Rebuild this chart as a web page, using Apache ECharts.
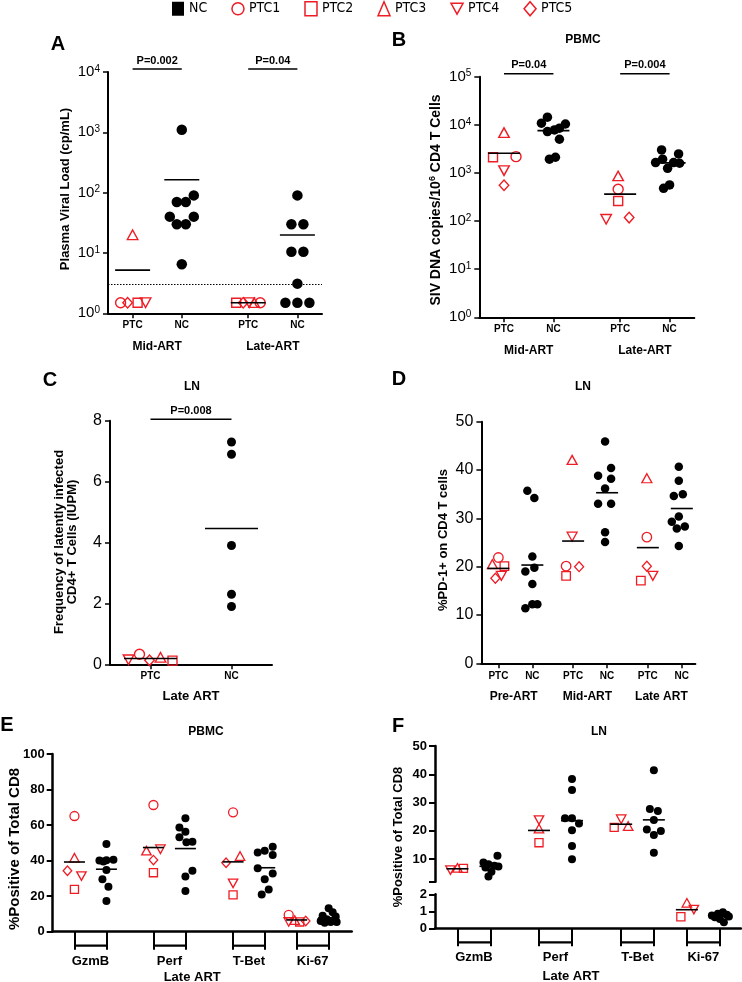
<!DOCTYPE html>
<html>
<head>
<meta charset="utf-8">
<script src="https://cdn.jsdelivr.net/npm/echarts@6/dist/echarts.min.js"></script>
<style>
html, body { margin: 0; padding: 0; background: #fff; }
#main { width: 742px; height: 982px; }
</style>
</head>
<body>
<div id="main"></div>
<script>
var myChart = echarts.init(document.getElementById('main'));

// ---- data (PTC arrays are in order PTC1..PTC5, null = animal not measured) ----
var ptcNames = ['PTC1', 'PTC2', 'PTC3', 'PTC4', 'PTC5'];

// A: plasma viral load (cp/mL)
var abCats = ['PTC', 'NC', 'PTC', 'NC'];
var abGroups = ['Mid-ART', 'Late-ART'];
var aMidPTC = [1.5, 1.5, 20, 1.5, 1.5];
var aMidNC = [1100, 90, 70, 70, 40, 40, 30, 30, 6.5];
var aLatePTC = [1.5, 1.5, 1.5, 1.5, 1.5];
var aLateNC = [90, 30, 30, 10.5, 10.5, 3.1, 1.5, 1.5, 1.5];
var aLimit = 3;
var aPvals = ['P=0.002', 'P=0.04'];

// B: SIV DNA copies / 10^6 CD4 T cells (PBMC)
var bMidPTC = [2180, 2120, 6890, 1116, 555];
var bMidNC = [14400, 10800, 10400, 8500, 7830, 7230, 5010, 2120, 1930];
var bLatePTC = [458, 262, 866, 109, 118];
var bLateNC = [3010, 2480, 1930, 1640, 1640, 1590, 1250, 563, 480];
var bPvals = ['P=0.04', 'P=0.004'];

// C: IUPM (LN, late ART)
var cCats = ['PTC', 'NC'];
var cPTC = [0.33, 0.12, 0.23, 0.15, 0.13];
var cNC = [7.3, 6.9, 3.9, 2.3, 1.9];
var cPval = 'P=0.008';

// D: %PD-1+ on CD4 T cells (LN)
var dCats = ['PTC', 'NC', 'PTC', 'NC', 'PTC', 'NC'];
var dGroups = ['Pre-ART', 'Mid-ART', 'Late ART'];
var dPrePTC = [21.9, 20.1, 20.5, 18.1, 17.6];
var dPreNC = [35.7, 34.2, 22.1, 19.8, 19.0, 16.4, 12.2, 12.2, 11.4];
var dMidPTC = [20.1, 18.1, 42.1, 26.2, 20.0];
var dMidNC = [45.9, 40.4, 38.8, 38.2, 36.2, 33.0, 33.0, 27.1, 25.1];
var dLatePTC = [26.1, 17.1, 38.3, 18.1, 20.1];
var dLateNC = [40.7, 37.8, 35.0, 34.6, 30.4, 29.3, 28.3, 27.9, 24.3];

// E: %positive of total CD8 (PBMC, late ART)
var efMarkers = ['GzmB', 'Perf', 'T-Bet', 'Ki-67'];
var eGzmbPTC = [65.1, 23.8, 41.6, 31.3, 34.3];
var eGzmbNC = [49.4, 40.5, 40.2, 40.0, 39.5, 34.7, 29.5, 25.3, 17.3];
var ePerfPTC = [71.3, 33.2, 45.6, 46.4, 40.3];
var ePerfNC = [63.8, 58.7, 56.3, 53.1, 50.6, 50.3, 34.3, 31.0, 22.9];
var eTbetPTC = [67.2, 20.7, 42.6, 27.2, 38.8];
var eTbetNC = [47.8, 45.6, 44.5, 43.2, 35.7, 32.8, 29.5, 23.8, 21.0];
var eKi67PTC = [9.5, 5.5, 6.5, 5.5, 6.0];
var eKi67NC = [13.2, 11.0, 9.0, 8.5, 7.0, 6.0, 5.5, 5.5, 5.0];

// F: %positive of total CD8 (LN, late ART)
var fGzmbPTC = [null, 6.7, 6.9, 6.1, null];
var fGzmbNC = [11.2, 8.8, 8.2, 7.6, 7.4, 7.0, 5.5, 3.8];
var fPerfPTC = [null, 15.8, 20.8, 23.8, null];
var fPerfNC = [38.3, 34.4, 24.4, 24.4, 22.6, 20.2, 14.6, 9.9];
var fTbetPTC = [null, 21.2, 21.7, 24.1, null];
var fTbetNC = [41.4, 27.7, 27.0, 23.8, 20.5, 19.9, 18.5, 12.2];
var fKi67PTC = [null, 0.68, 1.5, 1.1, null];
var fKi67NC = [0.95, 0.85, 0.8, 0.75, 0.7, 0.65, 0.55, 0.35];

// ---- layout: category positions on the x axes and point spread (px) ----
var abPos = [0.5, 1.5, 2.85, 3.85], abMax = 4.35;
var dPos = [0.5, 1.5, 2.7, 3.7, 4.9, 5.9], dMax = 6.3;
var efPos = [0.68, 1.68, 3.15, 4.15, 5.64, 6.63, 7.63, 8.63], eMax = 9.35, fMax = 9.27;

var aMidPTCJit = [-12, 5, 0, 13, -5];
var aMidNCJit = [0, 12, -5, 4, -12, 12, -5, 4, 0];
var aLatePTCJit = [12, -12, 6, 1, -5];
var aLateNCJit = [0, -6, 6, -6, 6, 0, -12, 0, 12];
var bMidPTCJit = [12, -11, 0, 0, 0];
var bMidNCJit = [-6, -12, 12, 6, 1, -6, 6, 2, -4];
var bLatePTCJit = [-2, -2, -2, -14, 9];
var bLateNCJit = [-8, 9, -7, -14, 4, 10, -2, 0, -6];
var cPTCJit = [-11, 22, 10, -22, -1];
var cNCJit = [0, 0, 0, 0, 0];
var dPrePTCJit = [0, 6, -6, 3, -3];
var dPreNCJit = [-5, 2, 0, 2, -7, 0, 0, 5, -7];
var dMidPTCJit = [-7, -7, -1, -1, 6];
var dMidNCJit = [-2, 4, -9, 4, -2, -9, 4, -2, -2];
var dLatePTCJit = [-1, -7, -1, 5, -1];
var dLateNCJit = [-3, -3, 1, -8, -3, -10, 3, -5, -3];
var eGzmbPTCJit = [0, 0, 0, 7, -7];
var eGzmbNCJit = [0, 7, 0, -7, -3, 0, -4, 2, 0];
var ePerfPTCJit = [0, 0, -7, 7, 0];
var ePerfNCJit = [0, -6, 0, -6, 7, 1, 7, 0, 0];
var eTbetPTCJit = [0, 0, 7, 0, -7];
var eTbetNCJit = [8, 0, -7, 8, -7, 8, 0, 4, -3];
var eKi67PTCJit = [-8, 3, -2, -8, 9];
var eKi67NCJit = [0, 4, -6, 7, -2, -8, 8, 2, -4];
var fGzmbPTCJit = [0, 6, 0, -7, 0];
var fGzmbNCJit = [7, -7, -2, 4, 8, -5, 1, -2];
var fPerfPTCJit = [0, 0, 0, 0, 0];
var fPerfNCJit = [0, 0, -7, 0, 7, 0, 0, 0];
var fTbetPTCJit = [0, -7, 7, 0, 0];
var fTbetNCJit = [0, -4, 4, 0, -7, 7, 0, 0];
var fKi67PTCJit = [0, -6, 0, 7, 0];
var fKi67NCJit = [3, -2, 7, -8, 9, -5, 0, 4];

// ---- styles ----
var RED = '#ee1c25';
var FONT = '"Liberation Sans", Arial, sans-serif';
var INV_TRI = 'path://M0,0L10,0L5,9Z';
var SYMS = ['circle', 'rect', 'triangle', INV_TRI, 'diamond'];
var SYM_K = [[1, 1], [0.9, 0.9], [1.05, 0.95], [1.05, 0.95], [0.95, 1.05]];

function mean(a) {
    var s = 0, n = 0;
    a.forEach(function (v) { if (v != null) { s += v; n++; } });
    return s / n;
}
function mid(p, i) { return (p[i] + p[i + 1]) / 2; }
function pick(pos, names) {
    return function (v) {
        var best = 0;
        for (var i = 1; i < pos.length; i++) {
            if (Math.abs(pos[i] - v) < Math.abs(pos[best] - v)) best = i;
        }
        return names[best];
    };
}

var series = [];

// one series per PTC animal, one for NC, one for the mean bars
function addDots(xi, yi, groups, st) {
    ptcNames.forEach(function (name, k) {
        var data = [];
        groups.forEach(function (g) {
            if (g.ptc[k] != null) data.push({ value: [g.px, g.ptc[k]], symbolOffset: [g.pj[k], 0] });
        });
        if (!data.length) return;
        series.push({
            name: name, type: 'scatter', xAxisIndex: xi, yAxisIndex: yi,
            symbol: SYMS[k], symbolSize: [st.sym * SYM_K[k][0], st.sym * SYM_K[k][1]],
            itemStyle: { color: 'rgba(255,255,255,0)', borderColor: RED, borderWidth: st.bw, opacity: 1 },
            data: data, z: 3, silent: true
        });
    });
    var nc = [];
    groups.forEach(function (g) {
        g.nc.forEach(function (v, i) { nc.push({ value: [g.nx, v], symbolOffset: [g.nj[i], 0] }); });
    });
    var ncSeries = {
        name: 'NC', type: 'scatter', xAxisIndex: xi, yAxisIndex: yi,
        symbol: 'circle', symbolSize: st.dot, itemStyle: { color: '#000', opacity: 1 },
        data: nc, z: 2, silent: true
    };
    if (st.markLine) ncSeries.markLine = st.markLine;
    series.push(ncSeries);
    var means = [];
    groups.forEach(function (g) {
        means.push([g.px, mean(g.ptc)]);
        means.push([g.nx, mean(g.nc)]);
    });
    series.push({
        type: 'scatter', xAxisIndex: xi, yAxisIndex: yi, symbol: 'rect',
        symbolSize: [st.meanW, 1.6], itemStyle: { color: '#000', opacity: 1 }, data: means, z: 4, silent: true
    });
}

// significance bars just above the plot area
function addPBars(xi, yi, bars, texts, yRef, lift) {
    series.push({
        type: 'custom', xAxisIndex: xi, yAxisIndex: yi, silent: true, clip: false, z: 5,
        encode: { x: [0, 1], y: 2 },
        data: bars.map(function (b) { return [b[0], b[1], yRef]; }),
        renderItem: function (params, api) {
            var p1 = api.coord([api.value(0), api.value(2)]);
            var p2 = api.coord([api.value(1), api.value(2)]);
            var y = params.coordSys.y - lift;
            return {
                type: 'group', children: [
                    { type: 'line', shape: { x1: p1[0], y1: y, x2: p2[0], y2: y }, style: { stroke: '#000', lineWidth: 1.5 } },
                    { type: 'text', x: (p1[0] + p2[0]) / 2, y: y - 3,
                      style: { text: texts[params.dataIndex], align: 'center', verticalAlign: 'bottom',
                               font: 'bold 11px ' + FONT, fill: '#000' } }
                ]
            };
        }
    });
}

// brackets joining the PTC / NC ticks under panels E and F
function addBrackets(xi, yi, pos) {
    var pairs = [];
    for (var i = 0; i < pos.length; i += 2) pairs.push([pos[i], pos[i + 1], 0]);
    series.push({
        type: 'custom', xAxisIndex: xi, yAxisIndex: yi, silent: true, clip: false, z: 5,
        encode: { x: [0, 1], y: 2 },
        data: pairs,
        renderItem: function (params, api) {
            var p1 = api.coord([api.value(0), api.value(2)]);
            var p2 = api.coord([api.value(1), api.value(2)]);
            var y = params.coordSys.y + params.coordSys.height + 14;
            return { type: 'line', shape: { x1: p1[0], y1: y, x2: p2[0], y2: y }, style: { stroke: '#000', lineWidth: 2.2 } };
        }
    });
}

// ---- panels ----
addDots(0, 0, [
    { px: abPos[0], ptc: aMidPTC, pj: aMidPTCJit, nx: abPos[1], nc: aMidNC, nj: aMidNCJit },
    { px: abPos[2], ptc: aLatePTC, pj: aLatePTCJit, nx: abPos[3], nc: aLateNC, nj: aLateNCJit }
], {
    sym: 10, dot: 10.5, bw: 1.4, meanW: 35,
    markLine: {
        silent: true, symbol: 'none', label: { show: false },
        lineStyle: { color: '#000', type: [1.5, 1.5], width: 1, opacity: 1 },
        data: [{ yAxis: aLimit }]
    }
});
addPBars(0, 0, [[abPos[0], abPos[1]], [abPos[2], abPos[3]]], aPvals, 1, 3);

addDots(2, 1, [
    { px: abPos[0], ptc: bMidPTC, pj: bMidPTCJit, nx: abPos[1], nc: bMidNC, nj: bMidNCJit },
    { px: abPos[2], ptc: bLatePTC, pj: bLatePTCJit, nx: abPos[3], nc: bLateNC, nj: bLateNCJit }
], { sym: 10, dot: 9.5, bw: 1.4, meanW: 32 });
addPBars(2, 1, [[abPos[0], abPos[1]], [abPos[2], abPos[3]]], bPvals, 1, 3);

addDots(4, 2, [
    { px: 0, ptc: cPTC, pj: cPTCJit, nx: 1, nc: cNC, nj: cNCJit }
], { sym: 10, dot: 9, bw: 1.4, meanW: 53 });
addPBars(4, 2, [[0, 1]], [cPval], 0, 1.5);

addDots(5, 3, [
    { px: dPos[0], ptc: dPrePTC, pj: dPrePTCJit, nx: dPos[1], nc: dPreNC, nj: dPreNCJit },
    { px: dPos[2], ptc: dMidPTC, pj: dMidPTCJit, nx: dPos[3], nc: dMidNC, nj: dMidNCJit },
    { px: dPos[4], ptc: dLatePTC, pj: dLatePTCJit, nx: dPos[5], nc: dLateNC, nj: dLateNCJit }
], { sym: 9.5, dot: 8.5, bw: 1.3, meanW: 22 });

addDots(7, 4, [
    { px: efPos[0], ptc: eGzmbPTC, pj: eGzmbPTCJit, nx: efPos[1], nc: eGzmbNC, nj: eGzmbNCJit },
    { px: efPos[2], ptc: ePerfPTC, pj: ePerfPTCJit, nx: efPos[3], nc: ePerfNC, nj: ePerfNCJit },
    { px: efPos[4], ptc: eTbetPTC, pj: eTbetPTCJit, nx: efPos[5], nc: eTbetNC, nj: eTbetNCJit },
    { px: efPos[6], ptc: eKi67PTC, pj: eKi67PTCJit, nx: efPos[7], nc: eKi67NC, nj: eKi67NCJit }
], { sym: 9, dot: 8, bw: 1.3, meanW: 21 });
addBrackets(7, 4, efPos);

addDots(8, 5, [
    { px: efPos[0], ptc: fGzmbPTC, pj: fGzmbPTCJit, nx: efPos[1], nc: fGzmbNC, nj: fGzmbNCJit },
    { px: efPos[2], ptc: fPerfPTC, pj: fPerfPTCJit, nx: efPos[3], nc: fPerfNC, nj: fPerfNCJit },
    { px: efPos[4], ptc: fTbetPTC, pj: fTbetPTCJit, nx: efPos[5], nc: fTbetNC, nj: fTbetNCJit }
], { sym: 9, dot: 8, bw: 1.3, meanW: 22 });
addDots(9, 6, [
    { px: efPos[6], ptc: fKi67PTC, pj: fKi67PTCJit, nx: efPos[7], nc: fKi67NC, nj: fKi67NCJit }
], { sym: 9, dot: 8, bw: 1.3, meanW: 22 });
addBrackets(9, 6, efPos);

// ---- axes ----
function mainX(grid, max, pos, names, o) {
    return {
        gridIndex: grid, type: 'value', min: 0, max: max, position: 'bottom',
        axisLine: { show: true, onZero: false, lineStyle: { color: '#000', width: o.lw } },
        axisTick: { show: true, customValues: pos, length: o.tick, lineStyle: { color: '#000', width: o.tw } },
        axisLabel: { show: true, customValues: o.labelPos || pos, formatter: pick(o.labelPos || pos, names),
                     margin: o.margin, color: '#000', fontWeight: 'bold', fontSize: o.fs, fontFamily: FONT },
        splitLine: { show: false },
        name: o.name || '', nameLocation: 'middle', nameGap: o.nameGap || 0,
        nameTextStyle: { color: '#000', fontWeight: 'bold', fontSize: 13, fontFamily: FONT, padding: o.namePad || 0 }
    };
}
function groupX(grid, max, mids, names) {
    return {
        gridIndex: grid, type: 'value', min: 0, max: max, position: 'bottom', offset: 0,
        axisLine: { show: false }, axisTick: { show: false }, splitLine: { show: false },
        axisLabel: { show: true, customValues: mids, formatter: pick(mids, names), margin: 27,
                     color: '#000', fontWeight: 'bold', fontSize: 12, fontFamily: FONT }
    };
}
function sup(v) { return '{b|10}{s|' + Math.round(Math.log10(v)) + '}'; }
var SUP_RICH = {
    b: { fontSize: 15, fontFamily: FONT, color: '#000', lineHeight: 16 },
    s: { fontSize: 10, fontFamily: FONT, color: '#000', verticalAlign: 'top', lineHeight: 10 }
};
function logY(grid, max) {
    return {
        gridIndex: grid, type: 'log', logBase: 10, min: 1, max: max,
        axisLine: { show: true, lineStyle: { color: '#000', width: 2 } },
        axisTick: { show: true, length: 5, lineStyle: { color: '#000', width: 1.5 } },
        minorTick: { show: false }, splitLine: { show: false },
        axisLabel: { formatter: sup, rich: SUP_RICH, margin: 8, color: '#000' }
    };
}
function linY(grid, min, max, interval, o) {
    var ax = {
        gridIndex: grid, type: 'value', min: min, max: max, interval: interval,
        axisLine: { show: true, lineStyle: { color: '#000', width: o.lw } },
        axisTick: { show: true, length: o.tick, lineStyle: { color: '#000', width: o.tw } },
        splitLine: { show: false },
        axisLabel: { color: '#000', fontSize: o.fs, fontWeight: o.bold ? 'bold' : 'normal', fontFamily: FONT, margin: o.margin }
    };
    if (o.labelVals) { ax.axisLabel.customValues = o.labelVals; ax.axisTick.customValues = o.tickVals; }
    return ax;
}

var abX = { lw: 2, tick: 5, tw: 1.5, margin: 7, fs: 10 };
var efMids = [mid(efPos, 0), mid(efPos, 2), mid(efPos, 4), mid(efPos, 6)];

var xAxes = [
    mainX(0, abMax, abPos, abCats, abX),
    groupX(0, abMax, [1.0, 3.35], abGroups),
    mainX(1, abMax, abPos, abCats, abX),
    groupX(1, abMax, [1.0, 3.35], abGroups),
    {
        gridIndex: 2, type: 'category', data: cCats, boundaryGap: true,
        axisLine: { show: true, lineStyle: { color: '#000', width: 2 } },
        axisTick: { show: true, alignWithLabel: true, length: 5, lineStyle: { color: '#000', width: 1.5 } },
        axisLabel: { color: '#000', fontWeight: 'bold', fontSize: 10, fontFamily: FONT, margin: 7 },
        splitLine: { show: false },
        name: 'Late ART', nameLocation: 'middle', nameGap: 26,
        nameTextStyle: { color: '#000', fontWeight: 'bold', fontSize: 13, fontFamily: FONT }
    },
    mainX(3, dMax, dPos, dCats, { lw: 2, tick: 5, tw: 1.5, margin: 8, fs: 10 }),
    groupX(3, dMax, [0.95, 3.12, 5.3], dGroups),
    mainX(4, eMax, efPos, efMarkers, { lw: 2.5, tick: 18, tw: 2, margin: 23, fs: 13,
        labelPos: efMids, name: 'Late ART', nameGap: 39, namePad: [0, 20, 0, 0] }),
    { gridIndex: 5, type: 'value', min: 0, max: fMax, show: false },
    mainX(6, fMax, efPos, efMarkers, { lw: 2.5, tick: 18, tw: 2, margin: 23, fs: 13,
        labelPos: efMids, name: 'Late ART', nameGap: 42, namePad: [0, 34, 0, 0] })
];

var yAxes = [
    logY(0, 10000),
    logY(1, 100000),
    linY(2, 0, 8, 2, { lw: 2, tick: 5, tw: 1.5, fs: 16, margin: 8 }),
    linY(3, 0, 50, 10, { lw: 2, tick: 5, tw: 1.5, fs: 16, margin: 8 }),
    linY(4, 0, 100, 20, { lw: 2.5, tick: 6, tw: 2, fs: 13, bold: true, margin: 8 }),
    linY(5, 2, 50, null, { lw: 2.5, tick: 6, tw: 2, fs: 13, bold: true, margin: 8,
        labelVals: [10, 20, 30, 40, 50], tickVals: [2, 10, 20, 30, 40, 50] }),
    linY(6, 0, 2, 1, { lw: 2.5, tick: 6, tw: 2, fs: 13, bold: true, margin: 8 })
];

// ---- free text: panel letters, titles, axis names ----
function txt(x, y, text, font, extra) {
    var el = {
        type: 'text', x: x, y: y, silent: true,
        style: { text: text, font: font, fill: '#000', align: 'center', verticalAlign: 'middle',
                 textAlign: 'center', textVerticalAlign: 'middle' }
    };
    if (extra) for (var k in extra) el[k] = extra[k];
    return el;
}
var ROT = { rotation: Math.PI / 2 };
var graphics = [
    txt(58, 44, 'A', 'bold 20px ' + FONT),
    txt(399, 40, 'B', 'bold 20px ' + FONT),
    txt(50, 380, 'C', 'bold 20px ' + FONT),
    txt(399, 379, 'D', 'bold 20px ' + FONT),
    txt(7, 725, 'E', 'bold 20px ' + FONT),
    txt(398, 726, 'F', 'bold 20px ' + FONT),
    txt(583, 40, 'PBMC', 'bold 12px ' + FONT),
    txt(192, 387, 'LN', 'bold 12px ' + FONT),
    txt(583, 387, 'LN', 'bold 12px ' + FONT),
    txt(206, 732, 'PBMC', 'bold 12px ' + FONT),
    txt(599, 732, 'LN', 'bold 12px ' + FONT),
    txt(65, 189, 'Plasma Viral Load (cp/mL)', 'bold 13px ' + FONT, ROT),
    {
        type: 'text', x: 436, y: 200, rotation: Math.PI / 2, silent: true,
        style: {
            text: '{n|SIV DNA copies/10}{s|6}{n| CD4 T Cells}',
            align: 'center', verticalAlign: 'middle', textAlign: 'center', textVerticalAlign: 'middle',
            rich: {
                n: { font: 'bold 14px ' + FONT, fill: '#000', lineHeight: 16 },
                s: { font: 'bold 9px ' + FONT, fill: '#000', verticalAlign: 'top', lineHeight: 9 }
            }
        }
    },
    txt(66, 542, 'Frequency of latently infected\nCD4+ T Cells (IUPM)', 'bold 13px ' + FONT,
        { rotation: Math.PI / 2 }),
    txt(443, 540, '%PD-1+ on CD4 T cells', 'bold 13px ' + FONT, ROT),
    txt(15, 849, '%Positive of Total CD8', 'bold 15px ' + FONT, ROT),
    txt(398, 837, '%Positive of Total CD8', 'bold 13px ' + FONT, ROT)
];

var legendStyle = { color: 'rgba(255,255,255,0)', borderColor: RED, borderWidth: 1.5 };

function grid(left, top, width, height) {
    return { left: left, top: top, width: width, height: height, containLabel: false, outerBoundsMode: 'none' };
}

var option = {
    animation: false,
    backgroundColor: '#fff',
    textStyle: { fontFamily: FONT },
    legend: {
        left: 172, top: 1, padding: 0, itemGap: 24, itemWidth: 12, itemHeight: 14,
        selectedMode: false,
        textStyle: { color: '#000', fontSize: 14, fontFamily: '"Liberation Sans Narrow", "DejaVu Sans Condensed", ' + FONT },
        data: [
            { name: 'NC', icon: 'rect', itemStyle: { color: '#000' } },
            { name: 'PTC1', icon: 'circle', itemStyle: legendStyle },
            { name: 'PTC2', icon: 'rect', itemStyle: legendStyle },
            { name: 'PTC3', icon: 'triangle', itemStyle: legendStyle },
            { name: 'PTC4', icon: INV_TRI, itemStyle: legendStyle },
            { name: 'PTC5', icon: 'diamond', itemStyle: legendStyle }
        ]
    },
    grid: [
        grid(108, 72, 214, 241.3),
        grid(479.3, 76.7, 215, 240.6),
        grid(110, 420.7, 162, 243.6),
        grid(481.4, 421.7, 214, 241.6),
        grid(52.7, 754, 299, 177.7),
        grid(435, 746, 306, 135.7),
        grid(435, 894.3, 306, 34)
    ],
    xAxis: xAxes,
    yAxis: yAxes,
    series: series,
    graphic: graphics
};

myChart.setOption(option);
</script>
</body>
</html>
